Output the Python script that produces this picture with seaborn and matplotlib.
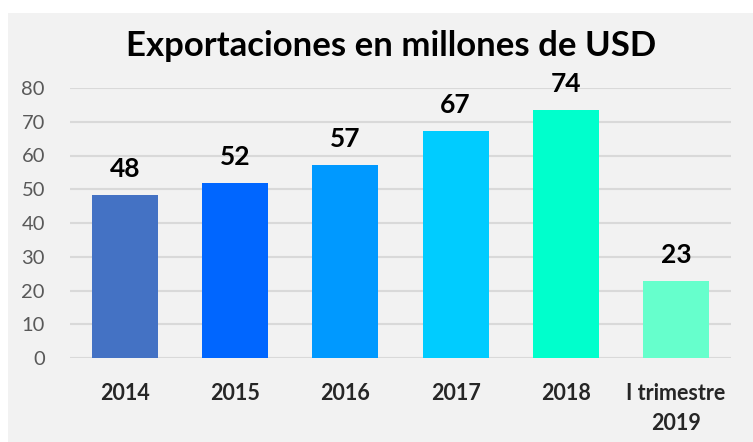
import matplotlib
matplotlib.use("Agg")
import matplotlib.pyplot as plt
import seaborn as sns
import pandas as pd

categories = ["2014", "2015", "2016", "2017", "2018", "I trimestre\n2019"]
values = [48.4, 51.9, 57.3, 67.3, 73.5, 22.7]
labels = ["48", "52", "57", "67", "74", "23"]
colors = ["#4472C4", "#0066FF", "#0099FF", "#00CCFF", "#00FFCC", "#66FFCC"]
yticks = [0, 10, 20, 30, 40, 50, 60, 70, 80]

sns.set_theme(style="white")
plt.rcParams["font.family"] = ["Lato", "DejaVu Sans"]

fig = plt.figure(figsize=(7.53, 4.42), dpi=100, facecolor="white")
fig.patches.append(plt.Rectangle((8 / 753, 0), 1, 1 - 13 / 442, transform=fig.transFigure,
                                 facecolor="#f2f2f2", edgecolor="none", zorder=-5))
ax = fig.add_axes([70 / 753, 1 - 358 / 442, 661 / 753, 270 / 442])
ax.set_facecolor("none")

df = pd.DataFrame({"cat": categories, "val": values})
sns.barplot(data=df, x="cat", y="val", hue="cat", palette=colors, width=0.6,
            legend=False, ax=ax, saturation=1, linewidth=0, zorder=3)

for i, (v, lab) in enumerate(zip(values, labels)):
    ax.annotate(lab, (i, v), xytext=(0, 10), textcoords="offset points",
                ha="center", va="bottom", fontsize=19, fontweight="bold", color="black")

ax.set_ylim(0, 80)
ax.set_xlim(-0.5, 5.5)
ax.set_yticks(yticks)
ax.grid(axis="y", color="#d9d9d9", linewidth=1.5, zorder=0)
ax.set_axisbelow(True)
for s in ax.spines.values():
    s.set_visible(False)
ax.tick_params(axis="y", length=0, pad=18, labelsize=14.5, labelcolor="#595959")
ax.tick_params(axis="x", length=0, pad=18, labelsize=15.5)
for t in ax.get_xticklabels():
    t.set_fontweight("bold")
    t.set_linespacing(1.55)
ax.set_xlabel("")
ax.set_ylabel("")

fig.text(391 / 753, 1 - 46 / 442, "Exportaciones en millones de USD", ha="center", va="center",
         fontsize=25, fontweight="bold", color="black")

fig.savefig("out.png", dpi=100, facecolor="white")
